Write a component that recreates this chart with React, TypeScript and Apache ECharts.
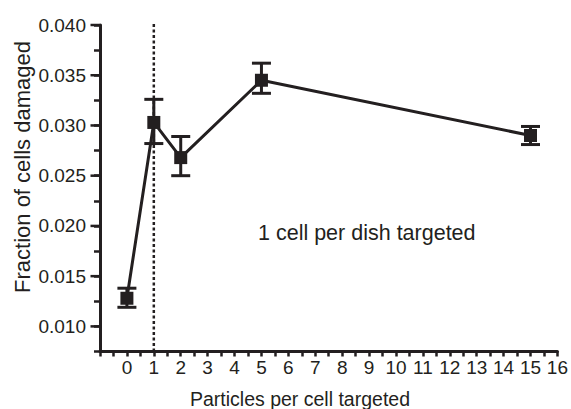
import React, { useEffect, useRef } from "react";
import * as echarts from "echarts";

const xValues = [0, 1, 2, 5, 15];
const yMeans = [0.0128, 0.0303, 0.0268, 0.0345, 0.029];
const yLower = [0.0119, 0.0282, 0.025, 0.0332, 0.0281];
const yUpper = [0.0138, 0.0326, 0.0289, 0.0362, 0.0299];
const yMajorTicks = [0.01, 0.015, 0.02, 0.025, 0.03, 0.035, 0.04];
const refLineX = 1;
const annotation = "1 cell per dish targeted";
const xTitle = "Particles per cell targeted";
const yTitle = "Fraction of cells damaged";

const INK = "#231f20";
const FONT = "'Liberation Sans', Arial, sans-serif";
const X_MIN = -1;

export default function App() {
  const ref = useRef<HTMLDivElement>(null);
  useEffect(() => {
    document.body.style.margin = "0";
    if (!ref.current) return;
    const chart = echarts.init(ref.current, null, { renderer: "svg" });
    const meanData = xValues.map((x, i) => [x, yMeans[i]]);
    const errData = xValues.map((x, i) => [x, yLower[i], yUpper[i]]);
    chart.setOption({
      animation: false,
      backgroundColor: "#ffffff",
      textStyle: { fontFamily: FONT },
      grid: { left: 100, right: 12.5, top: 25, bottom: 57.5 },
      xAxis: {
        type: "value",
        min: X_MIN,
        max: 16,
        interval: 1,
        splitLine: { show: false },
        axisLine: { show: true, onZero: false, lineStyle: { color: INK, width: 3 } },
        axisTick: { show: true, length: 5, lineStyle: { color: INK, width: 2.5 } },
        minorTick: { show: true, splitNumber: 2, length: 5, lineStyle: { color: INK, width: 2.5 } },
        axisLabel: {
          color: INK,
          fontSize: 19,
          fontFamily: FONT,
          margin: 6,
          formatter: (v: number) => (v < 0 ? "" : String(v)),
        },
      },
      yAxis: {
        type: "value",
        min: 0.0075,
        max: 0.04,
        interval: 0.0025,
        splitLine: { show: false },
        axisLine: { show: true, onZero: false, lineStyle: { color: INK, width: 3 } },
        axisTick: { show: true, length: 6, lineStyle: { color: INK, width: 2.5 } },
        axisLabel: {
          color: INK,
          fontSize: 19,
          fontFamily: FONT,
          margin: 14,
          formatter: (v: number) =>
            Math.round(v * 10000) % 50 === 0 ? v.toFixed(3) : "",
        },
      },
      series: [
        {
          type: "line",
          data: [
            [refLineX, 0.0075],
            [refLineX, 0.0403],
          ],
          clip: false,
          symbol: "none",
          z: 1,
          lineStyle: { color: INK, width: 2.5, type: [3, 2.5] },
        },
        {
          type: "custom",
          z: 5,
          clip: false,
          data: yMajorTicks.map((v) => [X_MIN, v]),
          renderItem: (params: any, api: any) => {
            const p = api.coord([api.value(0), api.value(1)]);
            return {
              type: "line",
              shape: { x1: p[0] - 9.5, y1: p[1], x2: p[0], y2: p[1] },
              style: { stroke: INK, lineWidth: 2.5 },
            };
          },
        },
        {
          type: "custom",
          z: 3,
          data: errData,
          renderItem: (params: any, api: any) => {
            const x = api.value(0);
            const lo = api.coord([x, api.value(1)]);
            const hi = api.coord([x, api.value(2)]);
            const hw = 9.5;
            const style = { stroke: INK, lineWidth: 3 };
            return {
              type: "group",
              children: [
                { type: "line", shape: { x1: lo[0], y1: lo[1], x2: hi[0], y2: hi[1] }, style },
                { type: "line", shape: { x1: lo[0] - hw, y1: lo[1], x2: lo[0] + hw, y2: lo[1] }, style },
                { type: "line", shape: { x1: hi[0] - hw, y1: hi[1], x2: hi[0] + hw, y2: hi[1] }, style },
              ],
            };
          },
        },
        {
          type: "line",
          data: meanData,
          z: 4,
          symbol: "rect",
          symbolSize: 13,
          itemStyle: { color: INK },
          lineStyle: { color: INK, width: 3 },
        },
      ],
      graphic: [
        {
          type: "text",
          left: 258,
          top: 222,
          style: { text: annotation, fontSize: 21.5, fontFamily: FONT, fill: INK },
        },
        {
          type: "text",
          x: 300,
          y: 399,
          style: {
            text: xTitle,
            fontSize: 19.5,
            fontFamily: FONT,
            fill: INK,
            align: "center",
            verticalAlign: "middle",
          },
        },
        {
          type: "text",
          x: 22,
          y: 167,
          rotation: Math.PI / 2,
          style: {
            text: yTitle,
            fontSize: 22,
            fontFamily: FONT,
            fill: INK,
            align: "center",
            verticalAlign: "middle",
          },
        },
      ],
    });
    return () => chart.dispose();
  }, []);
  return <div ref={ref} style={{ width: 571, height: 409 }} />;
}
